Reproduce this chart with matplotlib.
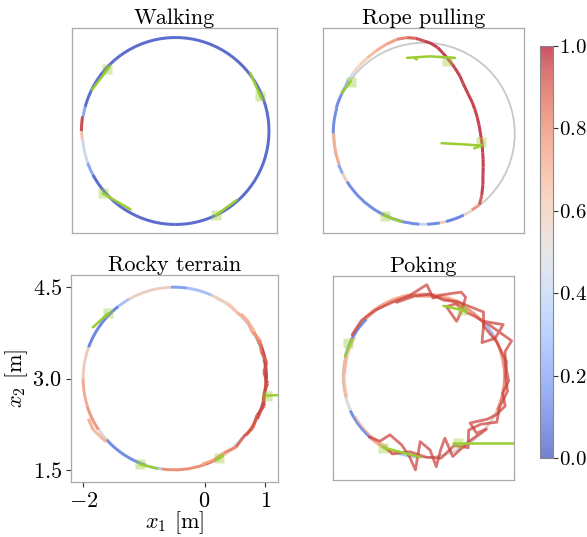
import numpy as np
import matplotlib
matplotlib.use("Agg")
import matplotlib.pyplot as plt
from matplotlib.collections import LineCollection
from matplotlib.patches import Circle, Arc
from matplotlib.cm import ScalarMappable
from matplotlib.colors import Normalize

plt.rcParams["font.family"] = "cmr10"
plt.rcParams["mathtext.fontset"] = "cm"
plt.rcParams["axes.unicode_minus"] = False

# ---------------- data ----------------
CENTER = (-0.5, 3.0)
RADIUS = 1.5
titles = ["Walking", "Rope pulling", "Rocky terrain", "Poking"]
x_ticks = [-2, 0, 1]
x_tick_labels = [r"$-2$", r"$0$", r"$1$"]
y_ticks = [1.5, 3.0, 4.5]
y_tick_labels = [r"$1.5$", r"$3.0$", r"$4.5$"]
cbar_ticks = [0.0, 0.2, 0.4, 0.6, 0.8, 1.0]
cbar_tick_labels = [r"$0.0$", r"$0.2$", r"$0.4$", r"$0.6$", r"$0.8$", r"$1.0$"]

# arc pieces of trajectory hugging the circle: (start deg, end deg, radius m, value)
walk_arcs = [(-90, 165, 1.50, 0.03), (165, 171, 1.50, 0.20), (171, 180, 1.51, 0.95),
             (180, 185, 1.505, 0.65), (185, 200, 1.495, 0.45), (200, 208, 1.50, 0.20),
             (208, 270, 1.50, 0.03)]

rope_arcs = [(-58, -52, 1.49, 0.78), (-64, -58, 1.50, 0.55), (-76, -64, 1.50, 0.10),
             (-80, -76, 1.50, 0.60), (-88, -80, 1.50, 0.12), (-93, -88, 1.50, 0.42),
             (-148, -93, 1.50, 0.12), (-154, -148, 1.50, 0.60), (-160, -154, 1.50, 0.20),
             (180, 200, 1.49, 0.72), (164, 180, 1.50, 0.12), (150, 164, 1.51, 0.12)]
# free part of trajectory: (angle deg, radius m, value)
rope_path = [(150, 1.51, 0.15), (145, 1.53, 0.30), (139, 1.54, 0.55), (133, 1.55, 0.60),
             (127, 1.56, 0.65), (120, 1.58, 0.72), (113, 1.60, 0.75), (106, 1.62, 0.80),
             (100, 1.61, 0.90), (95, 1.58, 0.95), (90, 1.53, 0.97), (86, 1.50, 0.98),
             (81, 1.44, 0.98), (77, 1.37, 0.98), (71, 1.28, 0.98), (65, 1.20, 0.98),
             (58, 1.12, 0.98), (52, 1.05, 0.98), (42, 0.98, 0.98), (33, 0.95, 0.98),
             (25, 0.93, 0.98), (17, 0.92, 0.98), (9, 0.92, 0.98), (1.5, 0.93, 0.98),
             (-5, 0.95, 0.98), (-11, 0.98, 0.98), (-18, 1.02, 0.98), (-24, 1.07, 0.98),
             (-30, 1.13, 0.98), (-35, 1.19, 0.98), (-41, 1.29, 0.98), (-47, 1.40, 0.98),
             (-52, 1.49, 0.90)]

rocky_arcs = [(180, 198, 1.50, 0.72), (198, 214, 1.505, 0.78), (214, 222, 1.50, 0.50),
              (222, 252, 1.50, 0.12), (252, 262, 1.50, 0.35), (262, 290, 1.50, 0.80),
              (290, 302, 1.50, 0.88), (302, 312, 1.50, 0.60), (312, 322, 1.49, 0.38),
              (322, 334, 1.51, 0.85), (334, 346, 1.52, 0.95), (346, 360, 1.51, 0.93),
              (0, 12, 1.52, 0.97), (12, 22, 1.53, 0.98), (22, 30, 1.52, 0.85),
              (30, 44, 1.53, 0.70), (44, 66, 1.50, 0.58), (66, 82, 1.50, 0.30),
              (82, 92, 1.50, 0.18), (92, 120, 1.50, 0.58), (120, 128, 1.50, 0.30),
              (128, 160, 1.50, 0.10), (160, 180, 1.50, 0.60)]
rocky_path = [(288, 1.48, 0.70), (296, 1.49, 0.75), (304, 1.47, 0.80), (312, 1.52, 0.85),
              (320, 1.49, 0.90), (328, 1.53, 0.92), (336, 1.49, 0.90), (343, 1.55, 0.95),
              (350, 1.50, 0.90), (357, 1.54, 0.95), (4, 1.48, 0.92), (10, 1.55, 0.90),
              (17, 1.50, 0.85), (24, 1.55, 0.80), (31, 1.49, 0.70), (38, 1.54, 0.72),
              (46, 1.50, 0.65), (54, 1.52, 0.60), (62, 1.49, 0.55)]
rocky_strand = [(205, 1.56, 0.75), (212, 1.58, 0.72), (223, 1.53, 0.70)]

poke_arcs = [(-130, -110, 1.51, 0.72), (-155, -130, 1.50, 0.12), (-165, -155, 1.49, 0.50),
             (165, 195, 1.475, 0.68), (155, 165, 1.50, 0.25), (135, 155, 1.50, 0.12),
             (95, 135, 1.52, 0.72), (40, 95, 1.49, 0.78), (30, 40, 1.50, 0.30),
             (-25, 30, 1.50, 0.78), (-45, -25, 1.50, 0.55), (-75, -45, 1.50, 0.50),
             (-110, -95, 1.50, 0.35)]
poke_arcs_2 = [(100, 150, 1.54, 0.76), (150, 178, 1.46, 0.70), (-150, -118, 1.47, 0.72),
               (60, 100, 1.53, 0.80)]
poke_loop_value = 0.93
poke_loop_a = [(150, 1.53), (138, 1.55), (126, 1.52), (113, 1.49), (100, 1.52), (88, 1.70),
               (83, 1.46), (79, 1.53), (66, 1.71), (62, 1.66), (60, 1.42), (59, 1.19),
               (72, 1.36), (66, 1.47), (55, 1.43), (50, 1.46), (43, 1.50), (33, 1.76),
               (28, 1.50), (30, 1.25), (38, 1.40), (42, 1.52), (22, 1.76), (17, 1.58),
               (8, 1.53), (-3, 1.58), (-12, 1.50), (-20, 1.61), (-28, 1.52), (-34, 1.42),
               (-45, 1.22), (-47, 1.44), (-40, 1.52), (-55, 1.47), (-64, 1.52), (-70, 1.58),
               (-71, 1.21), (-77, 1.40), (-82, 1.69), (-85, 1.37), (-93, 1.21), (-95, 1.74),
               (-100, 1.51), (-108, 1.33), (-120, 1.25), (-124, 1.45), (-132, 1.51)]
poke_loop_b = [(110, 1.46), (96, 1.50), (85, 1.53), (75, 1.46), (66, 1.52), (55, 1.56),
               (47, 1.63), (40, 1.45), (25, 1.50), (10, 1.56), (0, 1.52), (-10, 1.58),
               (-22, 1.52), (-32, 1.60), (-40, 1.38), (-50, 1.30), (-58, 1.56), (-66, 1.40),
               (-78, 1.55), (-88, 1.50), (-100, 1.42), (-112, 1.55), (-118, 1.50)]

# green traces (x list, y list) and square markers (x, y)
walk_green = [([-1.84, -1.56], [3.66, 4.03]), ([0.70, 0.88], [3.93, 3.52]),
              ([-1.67, -1.22], [2.00, 1.74]), ([0.15, 0.48], [1.65, 1.89])]
walk_squares = [(-1.60, 4.00), (0.86, 3.56), (-1.67, 2.00), (0.15, 1.65)]

rope_green = [([0.01, -0.40, -0.78], [4.25, 4.275, 4.25]),
              ([-0.66, -0.62], [4.25, 4.225]),
              ([-0.21, 0.15, 0.45, 0.33], [2.84, 2.82, 2.80, 2.755]),
              ([-1.86, -1.78, -1.71], [3.66, 3.77, 3.86]),
              ([-1.145, -1.00, -0.87], [1.641, 1.585, 1.542])]
rope_squares = [(-0.115, 4.198), (0.442, 2.855), (-1.712, 3.856), (-1.145, 1.641)]

rocky_green = [([-1.84, -1.59], [3.84, 4.07]), ([1.03, 1.30], [2.72, 2.73]),
               ([0.20, 0.30], [1.66, 1.73]), ([-1.06, -0.78], [1.59, 1.52])]
rocky_squares = [(-1.59, 4.07), (1.03, 2.72), (0.24, 1.69), (-1.06, 1.59)]

poke_green = [([-1.954, -1.83], [3.367, 3.676]),
              ([-0.133, 0.207, 0.30], [4.306, 4.231, 4.20]),
              ([-1.244, -0.565], [1.681, 1.504]),
              ([0.052, 1.40], [1.774, 1.774])]
poke_squares = [(-1.893, 3.615), (0.207, 4.231), (-1.244, 1.681), (0.144, 1.774)]

# axes limits
walk_lim = ((-2.161, 1.129), (1.363, 4.653))
rope_lim = ((-2.169, 1.153), (1.355, 4.744))
rocky_lim = ((-2.20, 1.21), (1.30, 4.70))
poke_lim = ((-2.18, 1.176), (1.08, 4.86))

# ---------------- plotting ----------------
W, H = 587, 537
fig = plt.figure(figsize=(W / 100, H / 100), dpi=100)


def px_axes(l, t, r, b):
    return fig.add_axes([l / W, (H - b) / H, (r - l) / W, (b - t) / H])


cmap = plt.get_cmap("coolwarm")
norm = Normalize(0, 1)
GREEN = "yellowgreen"
LW = 2.2
ALPHA = 0.82


def polar_xy(th_deg, rr):
    th = np.deg2rad(np.asarray(th_deg, dtype=float))
    rr = np.asarray(rr, dtype=float)
    return CENTER[0] + rr * np.cos(th), CENTER[1] + rr * np.sin(th)


def draw_arcs(ax, arcs, alpha=ALPHA, lw=LW):
    for t1, t2, r, v in arcs:
        ax.add_patch(Arc(CENTER, 2 * r, 2 * r, theta1=t1, theta2=t2,
                         color=cmap(norm(v)), lw=lw, alpha=alpha, zorder=3,
                         capstyle="butt"))


def draw_path(ax, path):
    xs, ys = polar_xy([p[0] for p in path], [p[1] for p in path])
    vv = np.array([p[2] for p in path])
    pts = np.column_stack([xs, ys])
    segs = np.stack([pts[:-1], pts[1:]], axis=1)
    cols = cmap(norm((vv[:-1] + vv[1:]) / 2))
    ax.add_collection(LineCollection(segs, colors=cols, linewidths=LW, alpha=ALPHA,
                                     capstyle="butt", zorder=3))


def draw_loop(ax, loop, value):
    xs, ys = polar_xy([p[0] for p in loop], [p[1] for p in loop])
    ax.plot(xs, ys, color=cmap(norm(value)), lw=2.0, alpha=0.72, zorder=3,
            solid_joinstyle="round", solid_capstyle="round")


def setup(ax, title, lims, greens, squares):
    ax.add_patch(Circle(CENTER, RADIUS, fill=False, ec="#c8c8c8", lw=1.3, zorder=2))
    for gx, gy in greens:
        ax.plot(gx, gy, color=GREEN, lw=1.8, zorder=4, solid_capstyle="round")
    for sx, sy in squares:
        ax.plot([sx], [sy], marker="s", ms=7, color=GREEN, alpha=0.4, mec="none", zorder=5)
    ax.set_xlim(*lims[0])
    ax.set_ylim(*lims[1])
    ax.set_title(title, fontsize=16, pad=3)
    for s in ax.spines.values():
        s.set_color("#aaaaaa")
        s.set_linewidth(0.9)
    ax.set_xticks([])
    ax.set_yticks([])


ax1 = px_axes(72, 28, 277, 233)
ax2 = px_axes(323, 28, 524, 233)
ax3 = px_axes(71, 275, 278, 482)
ax4 = px_axes(333, 276, 514, 480)

draw_arcs(ax1, walk_arcs)
setup(ax1, titles[0], walk_lim, walk_green, walk_squares)

draw_arcs(ax2, rope_arcs)
draw_path(ax2, rope_path)
setup(ax2, titles[1], rope_lim, rope_green, rope_squares)

draw_arcs(ax3, rocky_arcs)
draw_path(ax3, rocky_path)
draw_path(ax3, rocky_strand)
setup(ax3, titles[2], rocky_lim, rocky_green, rocky_squares)

draw_arcs(ax4, poke_arcs)
draw_arcs(ax4, poke_arcs_2, alpha=0.55, lw=1.8)
draw_loop(ax4, poke_loop_b, poke_loop_value)
draw_loop(ax4, poke_loop_a, poke_loop_value)
setup(ax4, titles[3], poke_lim, poke_green, poke_squares)

ax3.set_xticks(x_ticks)
ax3.set_xticklabels(x_tick_labels, fontsize=16)
ax3.set_yticks(y_ticks)
ax3.set_yticklabels(y_tick_labels, fontsize=16)
ax3.tick_params(length=3.5, width=0.8, color="#333333", pad=3)
ax3.set_xlabel(r"$x_1$ [m]", fontsize=16, labelpad=-1)
ax3.set_ylabel(r"$x_2$ [m]", fontsize=16, labelpad=2)

cax = px_axes(540, 46, 553, 458)
sm = ScalarMappable(norm=norm, cmap=cmap)
cb = fig.colorbar(sm, cax=cax, alpha=0.7)
cb.set_ticks(cbar_ticks)
cb.set_ticklabels(cbar_tick_labels)
cb.ax.tick_params(labelsize=15, length=3.5, width=0.8, color="#333333", pad=1)
cb.outline.set_edgecolor("#888888")
cb.outline.set_linewidth(0.8)

fig.savefig("out.png", dpi=100)
